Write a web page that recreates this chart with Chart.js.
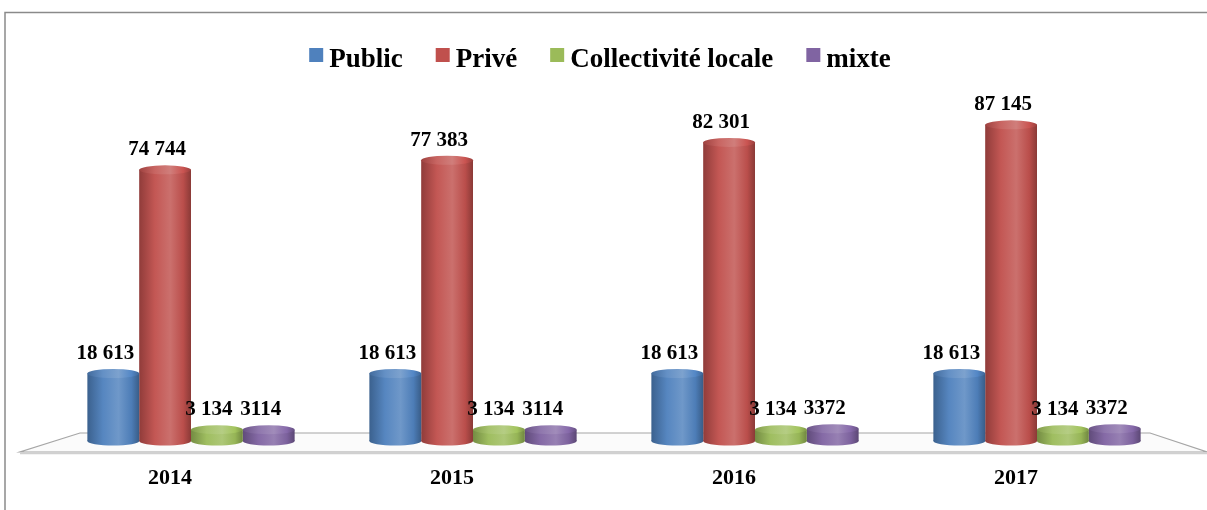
<!DOCTYPE html>
<html>
<head>
<meta charset="utf-8">
<script src="https://cdn.jsdelivr.net/npm/chart.js@4/dist/chart.umd.min.js"></script>
<style>
  html, body { margin: 0; padding: 0; background: #ffffff; }
  #wrap { width: 1207px; height: 510px; position: relative; }
</style>
</head>
<body>
<div id="wrap"><canvas id="c" width="1207" height="510"></canvas></div>
<script>
const categories = ['2014', '2015', '2016', '2017'];
const seriesNames = ['Public', 'Privé', 'Collectivité locale', 'mixte'];
const publicValues = [18613, 18613, 18613, 18613];
const priveValues = [74744, 77383, 82301, 87145];
const collectiviteValues = [3134, 3134, 3134, 3134];
const mixteValues = [3114, 3114, 3372, 3372];
const groupThousands = [true, true, true, false];
const yMax = 94000;

const seriesColors = ['#4F81BD', '#C0504D', '#9BBB59', '#8064A2'];
const serif = '"Liberation Serif", "Times New Roman", serif';

function hexToRgb(h) {
  const n = parseInt(h.slice(1), 16);
  return [(n >> 16) & 255, (n >> 8) & 255, n & 255];
}
function mix(h, target, t) {
  const c = hexToRgb(h);
  const r = c.map(v => Math.round(v + (target - v) * t));
  return 'rgb(' + r.join(',') + ')';
}
function fmt(v, group) {
  const s = String(v);
  if (!group) return s;
  return s.replace(/\B(?=(\d{3})+(?!\d))/g, ' ');
}
function cylGradient(ctx, x, w, color, lighten) {
  const g = ctx.createLinearGradient(x - w / 2, 0, x + w / 2, 0);
  g.addColorStop(0, mix(color, 0, 0.25 - lighten));
  g.addColorStop(0.3, mix(color, 255, 0.04 + lighten));
  g.addColorStop(0.6, mix(color, 255, 0.18 + lighten));
  g.addColorStop(0.85, mix(color, 0, 0.03 - lighten));
  g.addColorStop(1, mix(color, 0, 0.28 - lighten));
  return g;
}

const valuesBySeries = [publicValues, priveValues, collectiviteValues, mixteValues];

const framePlugin = {
  id: 'frame',
  beforeDraw(chart) {
    const ctx = chart.ctx;
    ctx.save();
    ctx.fillStyle = '#ffffff';
    ctx.fillRect(0, 0, chart.width, chart.height);
    ctx.strokeStyle = '#8a8a8a';
    ctx.lineWidth = 1.5;
    ctx.beginPath();
    ctx.moveTo(5, chart.height);
    ctx.lineTo(5, 12.5);
    ctx.lineTo(chart.width, 12.5);
    ctx.stroke();
    // floor
    const a = chart.chartArea;
    const y0 = chart.scales.y.getPixelForValue(0);
    ctx.beginPath();
    ctx.moveTo(a.left + 30, y0 - 8);
    ctx.lineTo(a.right - 28, y0 - 8);
    ctx.lineTo(a.right + 29, y0 + 11);
    ctx.lineTo(a.left - 30, y0 + 11);
    ctx.closePath();
    ctx.fillStyle = '#fbfbfb';
    ctx.fill();
    ctx.strokeStyle = '#a6a6a6';
    ctx.lineWidth = 1.2;
    ctx.stroke();
    ctx.beginPath();
    ctx.moveTo(a.left - 30, y0 + 12.5);
    ctx.lineTo(a.right + 34, y0 + 12.5);
    ctx.strokeStyle = '#d0d0d0';
    ctx.lineWidth = 1.5;
    ctx.stroke();
    // legend
    ctx.font = 'bold 27px ' + serif;
    ctx.textBaseline = 'alphabetic';
    const box = 14, gapBox = 6, gapItem = 33;
    let total = 0;
    const widths = seriesNames.map(n => ctx.measureText(n).width);
    widths.forEach((w, i) => { total += box + gapBox + w + (i < widths.length - 1 ? gapItem : 0); });
    let x = 600 - total / 2;
    seriesNames.forEach((n, i) => {
      ctx.fillStyle = seriesColors[i];
      ctx.fillRect(x, 48, box, box);
      x += box + gapBox;
      ctx.fillStyle = '#000000';
      ctx.fillText(n, x, 67);
      x += widths[i] + gapItem;
    });
    ctx.restore();
  },
  beforeDatasetsDraw(chart) {
    const ctx = chart.ctx;
    ctx.save();
    chart.data.datasets.forEach((ds, di) => {
      const meta = chart.getDatasetMeta(di);
      meta.data.forEach(el => {
        const w = el.width;
        const g = cylGradient(ctx, el.x, w, seriesColors[di], 0);
        el.options.backgroundColor = g;
        ctx.beginPath();
        ctx.ellipse(el.x, el.base, w / 2, 4.5, 0, 0, Math.PI * 2);
        ctx.fillStyle = g;
        ctx.fill();
      });
    });
    ctx.restore();
  },
  afterDatasetsDraw(chart) {
    const ctx = chart.ctx;
    ctx.save();
    chart.data.datasets.forEach((ds, di) => {
      const meta = chart.getDatasetMeta(di);
      meta.data.forEach(el => {
        const w = el.width;
        ctx.beginPath();
        ctx.ellipse(el.x, el.y, w / 2, 4.5, 0, 0, Math.PI * 2);
        ctx.fillStyle = cylGradient(ctx, el.x, w, seriesColors[di], 0.08);
        ctx.fill();
      });
    });
    ctx.font = 'bold 21px ' + serif;
    ctx.textAlign = 'center';
    ctx.textBaseline = 'middle';
    ctx.fillStyle = '#000000';
    chart.data.datasets.forEach((ds, di) => {
      const meta = chart.getDatasetMeta(di);
      meta.data.forEach((el, i) => {
        ctx.fillText(fmt(ds.data[i], groupThousands[di]), el.x - 8, el.y - 20);
      });
    });
    ctx.restore();
  }
};

new Chart(document.getElementById('c'), {
  type: 'bar',
  data: {
    labels: categories,
    datasets: seriesNames.map((name, i) => ({
      label: name,
      data: valuesBySeries[i],
      backgroundColor: (c) => seriesColors[c.datasetIndex],
      borderWidth: 0,
      categoryPercentage: 0.735,
      barPercentage: 1.0
    }))
  },
  options: {
    responsive: false,
    animation: false,
    layout: { padding: { top: 100, left: 50, right: 29, bottom: 22 } },
    plugins: {
      legend: { display: false },
      tooltip: { enabled: false },
      title: { display: false }
    },
    scales: {
      x: {
        grid: { display: false, drawTicks: false },
        border: { display: false },
        ticks: {
          color: '#000000',
          font: { family: serif, size: 22, weight: 'bold' },
          padding: 24,
          labelOffset: -21
        },
        afterFit(scale) { scale.height = 47; }
      },
      y: {
        display: false,
        min: 0,
        max: yMax
      }
    }
  },
  plugins: [framePlugin]
});
</script>
</body>
</html>
